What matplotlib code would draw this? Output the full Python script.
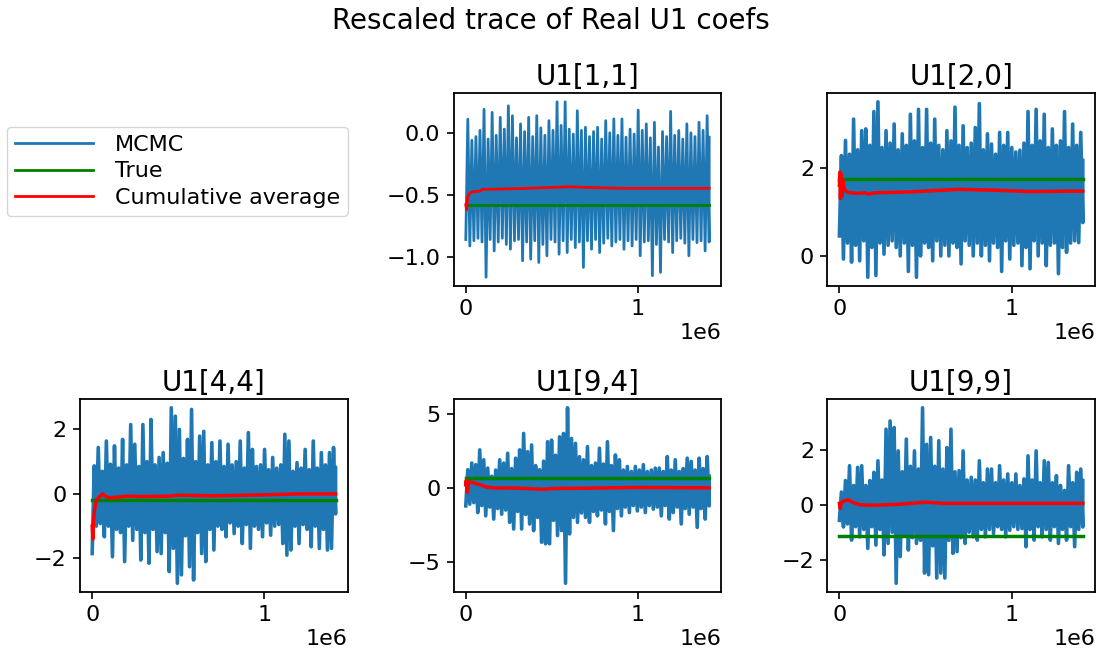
import matplotlib
matplotlib.use('Agg')
import matplotlib.pyplot as plt
import numpy as np

plt.rcParams.update({
    'font.family': 'DejaVu Sans',
    'font.size': 16,
    'axes.titlesize': 20,
    'figure.titlesize': 20,
    'axes.linewidth': 1.3,
    'xtick.major.size': 5,
    'ytick.major.size': 5,
    'xtick.major.width': 1.2,
    'ytick.major.width': 1.2,
    'xtick.major.pad': 4.5,
    'ytick.major.pad': 4.5,
})

N_ITER = 1.414e6

TITLES = ['U1[1,1]', 'U1[2,0]', 'U1[4,4]', 'U1[9,4]', 'U1[9,9]']
TRUE_VALS = [-0.585, 1.747, -0.185, 0.687, -1.14]
YTICKS = [[-1.0, -0.5, 0.0], [0, 2], [-2, 0, 2], [-5, 0, 5], [-2, 0, 2]]

# envelope of each chain: upper and lower swings of the rescaled trace
hi_11 = [0.11, -0.06, -0.03, 0.02, 0.19, -0.05, 0.165, -0.02, 0.125, 0.03,
         0.218, 0.138, -0.04, 0.072, 0.01, 0.125, -0.03, 0.138, 0.04, -0.02,
         0.098, 0.02, 0.25, 0.06, 0.25, 0.03, -0.01, 0.178, 0.02, 0.045,
         -0.03, 0.01, 0.045, -0.05, 0.098, 0.0, 0.112, -0.02, 0.112, -0.035,
         0.03, -0.01, 0.183, 0.02, 0.072, -0.04, 0.085, -0.114, 0.01, -0.03,
         0.173, -0.02, 0.019, -0.05, 0.072, 0.0, -0.03, 0.085, 0.02, 0.138,
         -0.035]
lo_11 = [-0.86, -0.912, -0.87, -0.85, -0.88, -1.164, -0.86, -0.952, -0.88, -0.85,
         -0.9, -0.938, -0.87, -0.86, -1.031, -0.88, -1.018, -0.87, -1.045, -0.9,
         -0.991, -0.86, -0.88, -0.978, -0.87, -0.965, -0.86, -0.925, -0.88, -1.085,
         -0.87, -0.938, -0.86, -0.965, -0.89, -0.85, -0.912, -0.88, -0.86, -0.938,
         -0.87, -0.912, -0.86, -0.991, -0.88, -0.87, -1.151, -0.9, -1.124, -0.86,
         -0.88, -0.965, -0.87, -0.85, -0.89, -0.991, -0.86, -0.885, -0.87, -0.952,
         -0.88]

hi_20 = [2.27, 2.61, 2.3, 3.09, 2.4, 2.83, 2.87, 2.5, 3.26, 3.48,
         2.45, 2.83, 2.55, 2.98, 2.4, 2.76, 2.5, 3.2, 2.6, 3.31,
         2.45, 3.31, 2.55, 3.09, 2.5, 2.4, 2.83, 2.6, 3.36, 2.5,
         2.94, 2.45, 2.55, 2.9, 3.44, 2.4, 2.76, 2.53, 2.3, 2.79,
         2.5, 2.79, 2.45, 2.35, 2.39, 2.55, 3.26, 2.5, 3.31, 2.6,
         3.2, 2.45, 2.87, 2.5, 2.6, 3.26, 2.45, 2.98, 2.5, 2.79,
         2.16]
lo_20 = [0.46, -0.06, 0.3, -0.13, 0.25, -0.1, 0.35, -0.47, 0.2, -0.43,
         0.3, 0.05, 0.25, 0.35, 0.2, 0.01, 0.3, -0.34, 0.25, -0.47,
         0.01, 0.3, 0.2, -0.1, 0.35, 0.01, 0.25, 0.01, 0.3, 0.2,
         -0.17, 0.35, 0.25, 0.01, 0.3, 0.01, 0.25, -0.1, 0.3, 0.2,
         -0.34, 0.35, -0.06, 0.25, 0.3, -0.21, 0.2, -0.28, 0.35, 0.01,
         0.3, -0.21, 0.25, 0.3, -0.39, 0.2, 0.09, 0.3, 0.35, 0.31,
         0.76]

hi_44 = [0.87, 1.44, 0.7, 1.64, 0.92, 1.49, 0.8, 1.69, 0.9, 2.15,
         1.54, 0.85, 2.15, 1.0, 2.31, 0.9, 1.13, 1.28, 0.95, 2.67,
         2.41, 2.0, 1.1, 1.69, 2.62, 1.0, 1.79, 1.94, 0.9, 1.59,
         1.0, 1.64, 0.85, 1.54, 0.9, 1.0, 1.64, 0.8, 1.9, 1.38,
         0.85, 0.9, 1.38, 0.75, 1.13, 0.8, 0.9, 1.85, 1.64, 0.7,
         0.97, 0.8, 1.38, 0.75, 1.64, 0.8, 1.28, 0.9, 1.28, 1.44,
         0.82]
lo_44 = [-1.85, -1.0, -0.92, -1.33, -1.0, -1.95, -1.1, -1.2, -2.1, -1.0,
         -1.44, -1.1, -2.05, -1.2, -2.15, -1.1, -1.79, -1.85, -1.2, -2.41,
         -1.69, -2.77, -2.51, -1.3, -2.26, -2.67, -1.2, -1.85, -2.1, -1.1,
         -1.74, -1.0, -1.1, -1.33, -0.9, -1.23, -1.0, -1.54, -0.95, -1.69,
         -1.0, -1.1, -1.33, -0.9, -1.28, -1.0, -0.95, -1.54, -1.9, -1.74,
         -1.0, -1.54, -0.95, -1.1, -1.64, -1.0, -1.69, -1.1, -1.74, -1.69,
         -0.62]

hi_94 = [1.22, 1.67, 1.56, 2.56, 1.89, 1.33, 0.78, 1.2, 1.89, 1.67,
         2.33, 1.3, 2.0, 2.56, 3.67, 2.44, 2.89, 1.5, 1.22, 1.8,
         3.11, 3.22, 2.2, 3.44, 3.67, 5.4, 3.33, 3.0, 2.1, 1.89,
         2.78, 1.5, 1.67, 2.67, 1.6, 3.11, 1.5, 2.22, 1.89, 1.2,
         1.44, 1.1, 1.44, 1.2, 1.56, 1.1, 1.2, 1.33, 1.33, 1.1,
         2.11, 1.2, 1.89, 1.1, 1.3, 2.0, 1.78, 1.2, 2.0, 1.3,
         2.11, 0.78]
lo_94 = [-1.22, -1.1, -1.0, -1.67, -1.2, -1.89, -1.3, -2.11, -1.4, -1.78,
         -1.5, -2.33, -2.78, -1.6, -2.78, -1.8, -2.44, -2.89, -2.0, -3.67,
         -3.78, -3.78, -2.2, -3.22, -2.89, -6.44, -3.11, -2.0, -2.33, -1.7,
         -2.0, -2.33, -1.6, -1.89, -1.5, -2.44, -1.6, -2.89, -1.4, -1.89,
         -1.3, -1.67, -1.2, -1.56, -1.3, -1.67, -1.2, -1.44, -1.3, -1.89,
         -1.2, -2.11, -1.67, -1.3, -2.44, -1.4, -1.78, -1.3, -2.67, -1.4,
         -2.11, -1.22]

hi_99 = [0.46, 0.88, 1.42, 0.7, 1.36, 1.42, 0.7, 0.88, 1.18, 1.6,
         0.9, 2.75, 3.05, 2.81, 1.96, 1.2, 2.39, 1.4, 1.96, 1.3,
         3.53, 2.2, 2.45, 1.4, 2.33, 1.3, 2.08, 2.75, 1.2, 1.24,
         1.96, 0.9, 1.0, 0.9, 1.6, 0.8, 1.3, 1.3, 0.8, 1.42,
         0.9, 1.12, 0.8, 1.12, 0.7, 0.94, 1.78, 0.9, 1.96, 0.8,
         1.6, 1.54, 0.8, 1.06, 0.7, 0.52, 1.42, 0.8, 1.18, 1.3,
         0.88]
lo_99 = [-0.57, -0.81, -0.7, -1.29, -0.8, -1.17, -0.9, -1.59, -0.8, -1.47,
         -0.9, -1.83, -1.41, -1.0, -2.86, -1.89, -1.1, -1.65, -1.2, -1.41,
         -1.3, -2.49, -2.55, -1.5, -2.67, -2.49, -2.67, -1.3, -1.77, -1.71,
         -1.2, -1.41, -1.0, -1.17, -1.29, -0.9, -1.17, -0.9, -1.05, -0.8,
         -0.9, -1.17, -0.93, -0.8, -0.9, -0.87, -1.53, -0.9, -1.29, -0.8,
         -1.17, -0.9, -1.29, -0.8, -1.41, -0.9, -1.29, -0.8, -1.53, -0.9,
         -0.81]

# cumulative averages (iteration in units of 1e6)
cum_x_11 = [0, 0.005, 0.01, 0.02, 0.04, 0.08, 0.1, 0.15, 0.3, 0.5, 0.6, 0.7, 0.9, 1.1, 1.414]
cum_11 = [-0.58, -0.62, -0.52, -0.49, -0.475, -0.47, -0.455, -0.455, -0.45, -0.44,
          -0.435, -0.44, -0.447, -0.447, -0.447]
cum_x_20 = [0, 0.003, 0.006, 0.01, 0.015, 0.02, 0.03, 0.05, 0.1, 0.15, 0.17, 0.2,
            0.4, 0.7, 0.9, 1.1, 1.414]
cum_20 = [1.6, 1.9, 1.3, 1.85, 1.35, 1.7, 1.5, 1.44, 1.42, 1.43, 1.40, 1.43,
          1.45, 1.51, 1.49, 1.46, 1.47]
cum_x_44 = [0, 0.004, 0.008, 0.015, 0.025, 0.04, 0.06, 0.08, 0.1, 0.15, 0.2, 0.3,
            0.45, 0.5, 0.7, 1.0, 1.2, 1.414]
cum_44 = [-1.0, -1.4, -0.8, -0.45, -0.2, -0.1, 0.0, -0.08, -0.12, -0.1, -0.07, -0.08,
          -0.07, -0.04, -0.06, -0.03, 0.0, 0.0]
cum_x_94 = [0, 0.003, 0.006, 0.01, 0.015, 0.02, 0.04, 0.08, 0.12, 0.16, 0.3, 0.45,
            0.5, 0.7, 1.0, 1.414]
cum_94 = [0.2, 0.5, -0.1, -0.3, 0.3, 0.4, 0.35, 0.22, 0.05, 0.0, -0.02, -0.1,
          -0.05, -0.02, 0.02, 0.0]
cum_x_99 = [0, 0.005, 0.01, 0.02, 0.05, 0.08, 0.12, 0.2, 0.35, 0.5, 0.6, 0.8, 1.0, 1.414]
cum_99 = [0.05, -0.14, 0.05, 0.12, 0.18, 0.08, 0.0, -0.02, 0.02, 0.09, 0.05, 0.05,
          0.05, 0.05]

highs = [hi_11, hi_20, hi_44, hi_94, hi_99]
lows = [lo_11, lo_20, lo_44, lo_94, lo_99]
cum_xs = [cum_x_11, cum_x_20, cum_x_44, cum_x_94, cum_x_99]
cums = [cum_11, cum_20, cum_44, cum_94, cum_99]


def chain(hi, lo):
    # alternate lower and upper swings; upper swings sit half a step later
    step = N_ITER / (len(lo) - 1)
    x_lo = np.linspace(0, N_ITER, len(lo))
    x_hi = np.minimum(np.arange(len(hi)) * step + step / 2, N_ITER)
    x = np.concatenate([x_lo, x_hi])
    y = np.concatenate([lo, hi])
    order = np.argsort(x, kind='stable')
    return x[order], y[order]


fig = plt.figure(figsize=(11.02, 6.51), dpi=100)
axes = fig.subplots(2, 3)
fig.subplots_adjust(left=0.0726, right=0.9936, bottom=0.0906, top=0.8571,
                    wspace=0.3955, hspace=0.5855)
axes[0, 0].axis('off')

panels = [axes[0, 1], axes[0, 2], axes[1, 0], axes[1, 1], axes[1, 2]]
for k, ax in enumerate(panels):
    tx, ty = chain(highs[k], lows[k])
    ax.plot(tx, ty, color='C0', lw=2.6, label='MCMC')
    ax.plot([0, N_ITER], [TRUE_VALS[k], TRUE_VALS[k]], color='green', lw=2.5, label='True')
    ax.plot(np.array(cum_xs[k]) * 1e6, cums[k], color='red', lw=2.5,
            label='Cumulative average')
    ax.set_title(TITLES[k])
    ax.set_xticks([0, 1e6])
    ax.set_yticks(YTICKS[k])

handles, labels = panels[0].get_legend_handles_labels()
for h in handles:
    h.set_linewidth(2.0)
fig.legend(handles, labels, loc='upper left', bbox_to_anchor=(0.0064, 0.805),
           borderaxespad=0, fontsize=16, labelspacing=0.3, borderpad=0.35,
           handlelength=3.5, handletextpad=1.0)

fig.suptitle('Rescaled trace of Real U1 coefs', y=0.99)

fig.savefig('out.png', dpi=100)
